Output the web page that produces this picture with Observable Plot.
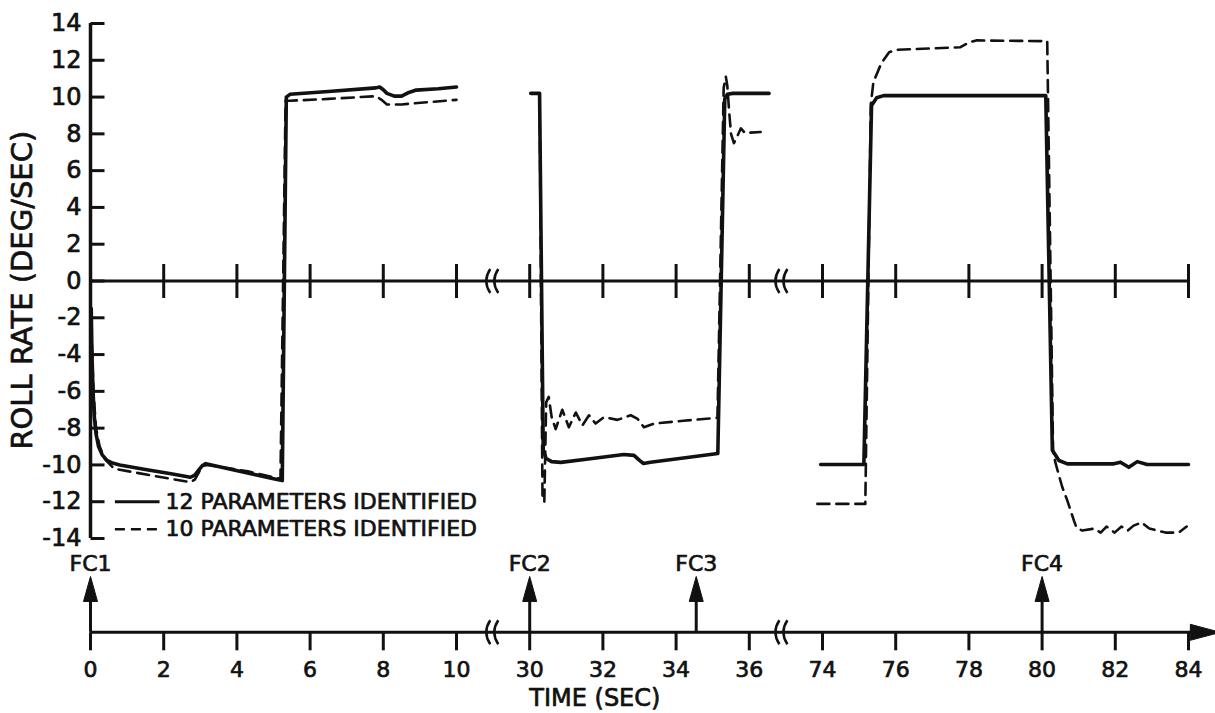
<!DOCTYPE html>
<html>
<head>
<meta charset="utf-8">
<script src="https://cdn.jsdelivr.net/npm/d3@7"></script>
<script src="https://cdn.jsdelivr.net/npm/@observablehq/plot@0.6"></script>
<style>
  html, body { margin: 0; padding: 0; background: #fff; }
  #chart { width: 1215px; height: 713px; overflow: hidden; }
</style>
</head>
<body>
<div id="chart"></div>
<script>
// ---------- DATA (time in seconds, roll rate in deg/sec) ----------
// Segment A: 0 - 10 s
const time12A = [0.02, 0.04, 0.07, 0.1, 0.15, 0.22, 0.32, 0.45, 0.6, 0.8, 1.5, 2.2, 2.73, 2.85, 2.95, 3.05, 3.15, 4.2, 5.0, 5.24, 5.35, 5.45, 6.5, 7.8, 7.9, 8.0, 8.1, 8.3, 8.5, 8.7, 8.9, 9.5, 10.0];
const roll12A = [-1.5, -4.0, -6.0, -7.3, -8.3, -9.0, -9.45, -9.75, -9.9, -10.0, -10.25, -10.48, -10.67, -10.55, -10.3, -10.05, -9.93, -10.4, -10.75, -10.85, 10.0, 10.15, 10.3, 10.5, 10.55, 10.4, 10.2, 10.05, 10.05, 10.25, 10.38, 10.45, 10.55];
const time10A = [0.04, 0.08, 0.15, 0.25, 0.4, 0.64, 1.6, 2.73, 2.85, 2.95, 3.05, 3.2, 4.3, 5.19, 5.33, 5.45, 6.5, 7.8, 7.95, 8.1, 8.5, 10.0];
const roll10A = [-3.5, -6.0, -8.0, -9.0, -9.7, -10.2, -10.55, -10.94, -10.8, -10.45, -10.05, -10.0, -10.35, -10.76, 9.8, 9.8, 9.9, 10.05, 9.85, 9.6, 9.6, 9.85];
// Segment B: 30 - 36.5 s
const time12B = [30.03, 30.27, 30.37, 30.45, 30.6, 30.85, 31.6, 32.57, 32.85, 33.0, 33.11, 33.3, 34.2, 35.14, 35.33, 35.4, 35.55, 36.54];
const roll12B = [10.2, 10.2, -9.2, -9.65, -9.82, -9.86, -9.68, -9.43, -9.48, -9.75, -9.92, -9.85, -9.62, -9.38, 9.9, 10.15, 10.2, 10.2];
const time10B = [30.03, 30.27, 30.35, 30.4, 30.45, 30.52, 30.6, 30.71, 30.89, 31.07, 31.26, 31.44, 31.62, 31.8, 32.03, 32.4, 32.76, 32.95, 33.12, 33.4, 34.2, 35.13, 35.3, 35.36, 35.4, 35.45, 35.5, 35.58, 35.68, 35.77, 35.88, 36.31];
const roll10B = [10.2, 10.2, -11.9, -12.0, -6.6, -6.3, -7.4, -8.05, -7.0, -7.95, -7.15, -7.85, -7.3, -7.75, -7.4, -7.55, -7.3, -7.5, -7.95, -7.75, -7.6, -7.44, 10.5, 11.1, 10.6, 9.2, 8.0, 7.5, 7.9, 8.3, 8.05, 8.1];
// Segment C: 74 - 84 s
const time12C = [73.95, 75.13, 75.34, 75.48, 75.67, 80.1, 80.28, 80.46, 80.69, 81.96, 82.14, 82.37, 82.6, 82.87, 84.0];
const roll12C = [-9.98, -9.98, 9.54, 9.96, 10.08, 10.08, -9.2, -9.76, -9.94, -9.94, -9.85, -10.13, -9.82, -9.98, -9.98];
const time10C = [73.86, 75.17, 75.32, 75.39, 75.6, 75.82, 76.04, 77.77, 78.0, 78.2, 80.14, 80.3, 80.37, 80.45, 80.55, 80.69, 80.87, 80.94, 81.1, 81.43, 81.6, 81.76, 81.98, 82.17, 82.34, 82.5, 82.72, 82.93, 83.37, 83.73, 83.95];
const roll10C = [-12.12, -12.12, 9.6, 10.81, 11.81, 12.44, 12.57, 12.71, 12.98, 13.08, 13.04, -9.3, -9.92, -10.5, -11.2, -11.94, -13.03, -13.41, -13.57, -13.46, -13.68, -13.35, -13.68, -13.35, -13.57, -13.3, -13.13, -13.46, -13.68, -13.68, -13.35];

// axis ticks / labels
const yTicks = [14, 12, 10, 8, 6, 4, 2, 0, -2, -4, -6, -8, -10, -12, -14];
const timeTicks = [0, 2, 4, 6, 8, 10, 30, 32, 34, 36, 74, 76, 78, 80, 82, 84];
const eventNames = ["FC1", "FC2", "FC3", "FC4"];
const eventTimes = [0, 30, 34.55, 80];
const seriesNames = ["12 PARAMETERS IDENTIFIED", "10 PARAMETERS IDENTIFIED"];
const yTitle = "ROLL RATE (DEG/SEC)";
const xTitle = "TIME (SEC)";

// ---------- broken time axis ----------
function toU(t) { return t <= 20 ? t : (t <= 50 ? t - 18 : t - 54); }
const breakU = [10.95, 18.85];

function rows(times, rolls, key) {
  return times.map((t, i) => ({u: toU(t), v: rolls[i], key}));
}
const data12 = [...rows(time12A, roll12A, "a"), ...rows(time12B, roll12B, "b"), ...rows(time12C, roll12C, "c")];
const data10 = [...rows(time10A, roll10A, "a"), ...rows(time10B, roll10B, "b"), ...rows(time10C, roll10C, "c")];

// layout levels (in roll-rate units, below the plotted range)
const TL = -19.1, TICKLAB = -21.13, FCLAB = -15.36, ARROWBASE = -17.37, XTITLE = -22.7;
const LEG = [-12.0, -13.5];

// custom symbols
const tickRight = {draw(c) { c.moveTo(0, 0); c.lineTo(14, 0); }};
const tickCross = {draw(c) { c.moveTo(0, -17); c.lineTo(0, 17); }};
const tickDown = {draw(c) { c.moveTo(0, 0); c.lineTo(0, 18); }};
const arrowUp = {draw(c) { c.moveTo(0, -24); c.lineTo(7, 1); c.lineTo(-7, 1); c.closePath(); }};
const arrowRight = {draw(c) { c.moveTo(30, 0); c.lineTo(0, -8); c.lineTo(0, 8); c.closePath(); }};
const breakMark = {draw(c) { for (const d of [-4, 4]) { c.moveTo(d + 3, -12); c.quadraticCurveTo(d - 5, 0, d + 3, 12); } }};

const fmt = d => d < 0 ? "-" + Math.abs(d) : String(d);
const ink = "#111";
const heavy = {fill: ink, stroke: ink, strokeWidth: 0.7};

const chart = Plot.plot({
  width: 1215,
  height: 713,
  margin: 0,
  style: {fontFamily: "DejaVu Sans", background: "#fff", color: ink},
  x: {domain: [0, 30], range: [90, 1188], axis: null},
  y: {domain: [-14, 14], range: [538, 23], axis: null},
  marks: [
    // y axis
    Plot.ruleX([0], {y1: -14, y2: 14, stroke: ink, strokeWidth: 3.5}),
    Plot.dot(yTicks, {x: 0, y: d => d, symbol: tickRight, stroke: ink, fill: "none", strokeWidth: 3}),
    Plot.text(yTicks, {x: 0, y: d => d, text: fmt, dx: -9, textAnchor: "end", fontSize: 24, ...heavy}),
    Plot.text([yTitle], {x: -1.86, y: -0.5, text: d => d, rotate: -90, fontSize: 29, ...heavy}),
    // zero line with cross ticks
    Plot.ruleY([0], {x1: 0, x2: 30, stroke: ink, strokeWidth: 3}),
    Plot.dot(timeTicks.filter(t => t > 0), {x: t => toU(t), y: 0, symbol: tickCross, stroke: ink, fill: "none", strokeWidth: 3}),
    Plot.dot(breakU, {x: d => d, y: 0, symbol: breakMark, stroke: ink, fill: "none", strokeWidth: 2.5}),
    // data
    Plot.line(data10, {x: "u", y: "v", z: "key", stroke: ink, strokeWidth: 2.6, strokeDasharray: "12,7", strokeLinejoin: "round"}),
    Plot.line(data12, {x: "u", y: "v", z: "key", stroke: ink, strokeWidth: 3.6, strokeLinejoin: "round", strokeLinecap: "round"}),
    // legend
    Plot.ruleY([LEG[0]], {x1: 0.68, x2: 1.9, stroke: ink, strokeWidth: 3}),
    Plot.ruleY([LEG[1]], {x1: 0.68, x2: 1.85, stroke: ink, strokeWidth: 2.6, strokeDasharray: "10,6"}),
    Plot.text(seriesNames, {x: 2.05, y: (d, i) => LEG[i], text: d => d, textAnchor: "start", fontSize: 22, ...heavy}),
    // time line
    Plot.ruleY([TL], {x1: 0, x2: 30.3, stroke: ink, strokeWidth: 3}),
    Plot.dot([30.05], {x: d => d, y: TL, symbol: arrowRight, fill: ink, stroke: ink, strokeWidth: 1}),
    Plot.dot(timeTicks, {x: t => toU(t), y: TL, symbol: tickDown, stroke: ink, fill: "none", strokeWidth: 3}),
    Plot.dot(breakU, {x: d => d, y: TL, symbol: breakMark, stroke: ink, fill: "none", strokeWidth: 2.5}),
    Plot.text(timeTicks, {x: t => toU(t), y: TICKLAB, text: d => String(d), fontSize: 22, ...heavy}),
    Plot.text([xTitle], {x: 13.78, y: XTITLE, text: d => d, fontSize: 24, ...heavy}),
    // events
    Plot.ruleX(eventTimes, {x: t => toU(t), y1: TL, y2: ARROWBASE, stroke: ink, strokeWidth: 3}),
    Plot.dot(eventTimes, {x: t => toU(t), y: ARROWBASE, symbol: arrowUp, fill: ink, stroke: ink, strokeWidth: 1}),
    Plot.text(eventTimes, {x: t => toU(t), y: FCLAB, text: (d, i) => eventNames[i], fontSize: 22, ...heavy})
  ]
});
document.getElementById("chart").append(chart);
</script>
</body>
</html>
